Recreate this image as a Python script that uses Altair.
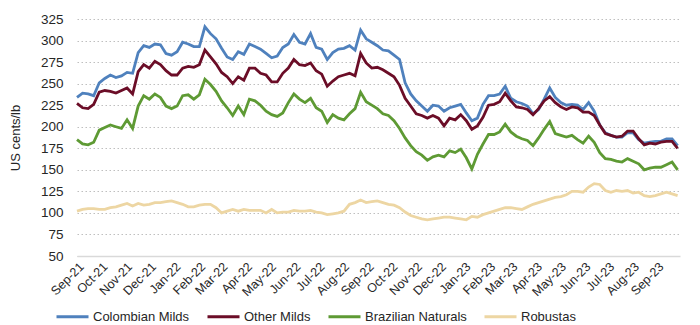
import altair as alt
import pandas as pd

start_date = "2021-09-01"
n_weeks = 109

colombian = [234, 239, 238, 236, 251, 256, 260, 257, 259, 263, 262, 286, 294, 292, 296, 295, 285, 283,
             287, 298, 296, 293, 293, 316, 308, 302, 291, 281, 278, 287, 284, 296, 293, 290, 285, 280,
             282, 292, 296, 307, 298, 296, 308, 292, 290, 278, 286, 290, 291, 294, 289, 312, 302, 298,
             294, 289, 288, 283, 278, 251, 238, 230, 224, 218, 225, 224, 218, 222, 224, 226, 216, 207,
             210, 226, 236, 236, 238, 247, 233, 229, 227, 224, 215, 220, 232, 245, 234, 228, 225, 226,
             225, 220, 228, 218, 202, 193, 190, 188, 188, 193, 193, 185, 181, 182, 183, 183, 186, 186, 178]
other = [227, 222, 221, 226, 240, 242, 241, 239, 242, 245, 238, 264, 272, 268, 276, 272, 265, 260,
         260, 268, 270, 269, 272, 289, 281, 273, 263, 258, 250, 258, 254, 268, 268, 262, 260, 252,
         252, 262, 268, 278, 272, 271, 274, 265, 261, 247, 253, 258, 260, 262, 259, 285, 274, 268,
         269, 266, 262, 258, 248, 233, 224, 215, 213, 210, 213, 210, 201, 210, 208, 214, 207, 197,
         201, 211, 225, 226, 229, 239, 230, 223, 222, 220, 214, 221, 230, 235, 228, 223, 220, 223,
         222, 217, 217, 213, 202, 192, 190, 188, 189, 195, 195, 186, 179, 181, 180, 182, 183, 183, 175]
brazilian = [185, 180, 179, 182, 196, 199, 202, 200, 198, 208, 198, 224, 236, 232, 238, 234, 224, 221,
             224, 236, 237, 232, 237, 255, 249, 241, 230, 222, 213, 224, 214, 232, 230, 225, 218, 214,
             212, 216, 228, 238, 232, 228, 233, 222, 218, 205, 214, 210, 208, 215, 221, 240, 229, 225,
             221, 215, 213, 207, 198, 187, 178, 171, 167, 161, 165, 167, 165, 172, 170, 174, 164, 151,
             168, 180, 191, 191, 194, 203, 194, 189, 186, 184, 178, 187, 197, 206, 192, 190, 188, 190,
             185, 181, 189, 182, 170, 163, 162, 160, 159, 163, 160, 157, 150, 152, 153, 153, 156, 159, 150]
robustas = [102, 104, 105, 105, 104, 104, 106, 107, 109, 111, 108, 111, 109, 110, 112, 112, 113, 114,
            112, 110, 107, 107, 109, 110, 110, 106, 100, 102, 104, 102, 104, 103, 103, 103, 100, 104,
            100, 101, 101, 103, 102, 102, 103, 101, 100, 98, 99, 100, 102, 110, 112, 115, 112, 113,
            114, 112, 110, 109, 106, 101, 97, 95, 93, 92, 93, 94, 95, 95, 94, 93, 92, 96,
            95, 98, 100, 102, 104, 106, 106, 105, 104, 107, 110, 112, 114, 116, 118, 119, 121, 125,
            125, 124, 130, 134, 133, 126, 124, 126, 125, 126, 123, 124, 120, 119, 120, 122, 124, 122, 120]

series_names = ["Colombian Milds", "Other Milds", "Brazilian Naturals", "Robustas"]
series_colors = ["#4F81BD", "#6B0D27", "#5E9A34", "#EDD6A3"]
y_ticks = [50, 75, 100, 125, 150, 175, 200, 225, 250, 275, 300, 325]

dates = pd.date_range(start_date, periods=n_weeks, freq="7D")
frames = []
for name, vals in zip(series_names, [colombian, other, brazilian, robustas]):
    frames.append(pd.DataFrame({"date": dates, "value": vals, "series": name,
                                "order": series_names.index(name)}))
df = pd.concat(frames, ignore_index=True)
df["date"] = df["date"].dt.strftime("%Y-%m-%d")

FONT = "Liberation Sans, Arial, sans-serif"
TXT = "#262626"

chart = alt.Chart(df).mark_line(strokeWidth=2.8, interpolate="linear").encode(
    x=alt.X("date:T",
            scale=alt.Scale(domain=["2021-09-01", "2023-09-30"]),
            axis=alt.Axis(title=None, format="%b-%y", tickCount={"interval": "month", "step": 1},
                          labelAngle=-45, labelAlign="right", labelBaseline="top",
                          labelPadding=4, ticks=False, grid=False,
                          domainColor="#d9d9d9", domainWidth=1.5,
                          labelFontSize=12.5, labelColor=TXT, labelFont=FONT,
                          labelOverlap=False, labelFlush=False)),
    y=alt.Y("value:Q",
            scale=alt.Scale(domain=[50, 325], nice=False, zero=False),
            axis=alt.Axis(title="US cents/lb", values=y_ticks, ticks=False, domain=False,
                          grid=True, gridDash=[1.5, 2.5], gridColor="#bfbfbf", gridWidth=1,
                          labelFontSize=13.5, labelColor=TXT, labelFont=FONT, labelPadding=14,
                          titleFontSize=13, titleFontWeight="normal", titleColor=TXT,
                          titleFont=FONT, titlePadding=18)),
    color=alt.Color("series:N",
                    scale=alt.Scale(domain=series_names, range=series_colors),
                    legend=alt.Legend(title=None, orient="none", direction="horizontal",
                                      legendX=-22, legendY=280,
                                      symbolType="stroke", symbolSize=1024, symbolStrokeWidth=3,
                                      labelFontSize=13, labelColor=TXT, labelFont=FONT,
                                      labelOffset=3, columnPadding=11)),
    order=alt.Order("order:Q"),
).properties(
    width=603, height=237,
    autosize=alt.AutoSizeParams(type="none"),
    padding={"left": 77, "top": 19, "right": 20, "bottom": 69},
).configure_view(stroke=None)

chart.save("out.html", embed_options={"renderer": "svg", "actions": False})
